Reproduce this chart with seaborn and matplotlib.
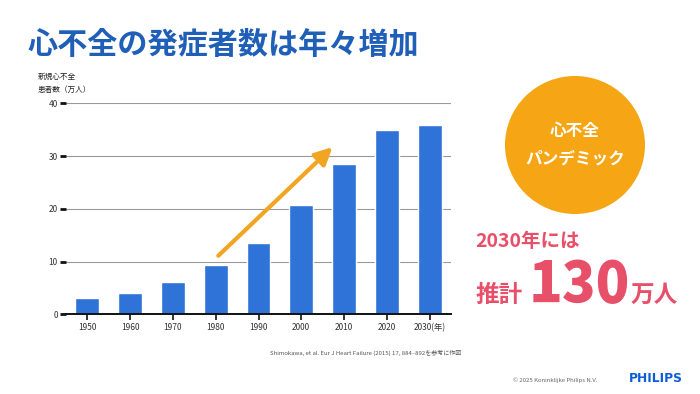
import matplotlib
matplotlib.use("Agg")
import matplotlib.pyplot as plt
import seaborn as sns
import pandas as pd
from matplotlib.patches import Ellipse

# data
years = ["1950", "1960", "1970", "1980", "1990", "2000", "2010", "2020", "2030"]
patients = [3.0, 4.0, 6.1, 9.3, 13.5, 20.8, 28.4, 34.9, 35.9]
xlabels = ["1950", "1960", "1970", "1980", "1990", "2000", "2010", "2020", "2030(年)"]
yticks = [0, 10, 20, 30, 40]

sns.set_theme(style="white")
plt.rcParams["font.family"] = ["Noto Sans CJK JP", "DejaVu Sans"]

W, H = 700, 394
fig = plt.figure(figsize=(7, 3.94), dpi=100)
fig.patch.set_facecolor("white")

def fx(px):
    return px / W

def fy(py):
    return 1 - py / H

ax = fig.add_axes([fx(66), fy(314.3), fx(451) - fx(66), fy(103.3) - fy(314.3)])
df = pd.DataFrame({"year": years, "value": patients})
sns.barplot(data=df, x="year", y="value", color="#2f72d8", saturation=1,
            width=0.56, ax=ax)
ax.set_xlim(-0.5, 8.5)
ax.set_ylim(0, 40)
ax.set_yticks(yticks)
ax.set_yticklabels([str(t) for t in yticks], fontsize=6, color="#333333")
ax.set_xticks(range(len(xlabels)))
ax.set_xticklabels(xlabels, fontsize=6, color="#333333")
ax.set_xlabel("")
ax.set_ylabel("")
for t in yticks[1:]:
    ax.axhline(t, color="#9a9a9a", lw=0.8, zorder=0)
for s in ["top", "right", "left"]:
    ax.spines[s].set_visible(False)
ax.spines["bottom"].set_color("#111111")
ax.spines["bottom"].set_linewidth(1.4)
ax.tick_params(axis="y", length=4, width=2, color="#111111", pad=2, left=True)
ax.tick_params(axis="x", length=4, width=1.2, color="#111111", pad=2, bottom=True)
ax.set_facecolor("white")

# trend arrow
ax.annotate("", xy=(5.73, 31.7), xytext=(3.06, 11.1),
            arrowprops=dict(arrowstyle="-|>", color="#f2a522", lw=3,
                            mutation_scale=26, shrinkA=0, shrinkB=0))

# title
fig.text(fx(28), fy(45), "心不全の発症者数は年々増加", fontsize=21.7, fontweight="bold",
         color="#1f5fb8", va="center", ha="left")

# y axis caption
fig.text(fx(38), fy(77), "新規心不全", fontsize=5.5, color="#222222", va="center")
fig.text(fx(38), fy(90), "患者数（万人）", fontsize=5.5, color="#222222", va="center")

# orange circle
circ = Ellipse((fx(575), fy(145)), width=fx(140), height=138 / H,
               transform=fig.transFigure, facecolor="#f6a514", edgecolor="none")
fig.patches.append(circ)
fig.text(fx(575), fy(131), "心不全", fontsize=12, fontweight="bold", color="white",
         ha="center", va="center")
fig.text(fx(575), fy(158), "パンデミック", fontsize=12, fontweight="bold", color="white",
         ha="center", va="center")

# estimate text
pink = "#e8506a"
fig.text(fx(475), fy(242), "2030年には", fontsize=14, fontweight="bold", color=pink,
         ha="left", va="center")
fig.text(fx(475), fy(302), "推計", fontsize=17, fontweight="bold", color=pink,
         ha="left", va="baseline")
fig.text(fx(529), fy(302), "130", fontsize=40, fontweight="heavy", color=pink,
         ha="left", va="baseline")
fig.text(fx(631), fy(302), "万人", fontsize=17, fontweight="bold", color=pink,
         ha="left", va="baseline")

# footnotes
fig.text(fx(270), fy(353), "Shimokawa, et al. Eur J Heart Failure (2015) 17, 884–892を参考に作図",
         fontsize=4.3, color="#555555", ha="left", va="center")
fig.text(fx(513), fy(380), "© 2025 Koninklijke Philips N.V.", fontsize=4.3,
         color="#666666", ha="left", va="center")
fig.text(fx(683), fy(379), "PHILIPS", fontsize=8.8, fontweight="bold", color="#0b5ed7",
         ha="right", va="center", family=["DejaVu Sans"])

fig.savefig("out.png", dpi=100, facecolor="white")
